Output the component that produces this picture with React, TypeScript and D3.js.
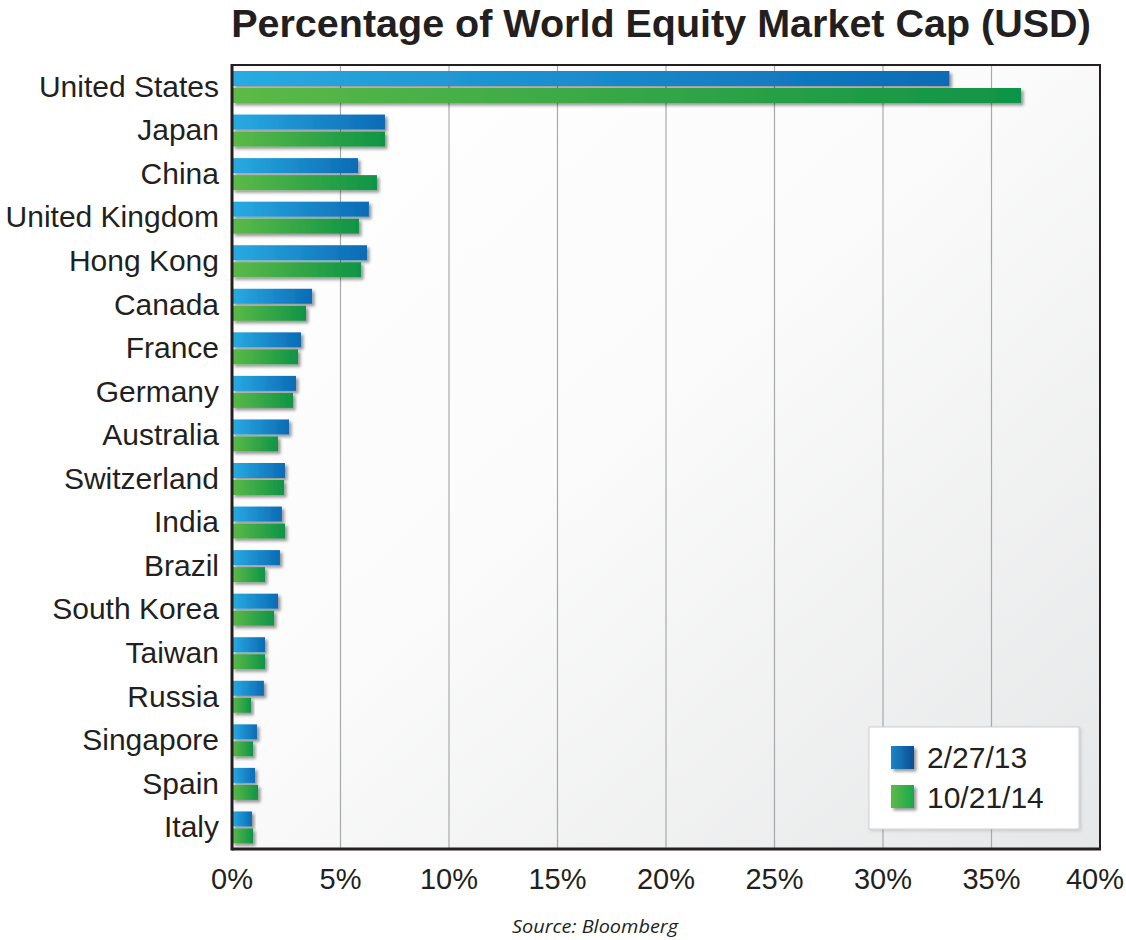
import React from "react";
import * as d3 from "d3";

const countries = [
  "United States", "Japan", "China", "United Kingdom", "Hong Kong", "Canada",
  "France", "Germany", "Australia", "Switzerland", "India", "Brazil",
  "South Korea", "Taiwan", "Russia", "Singapore", "Spain", "Italy",
];
const series = ["2/27/13", "10/21/14"];
const values2013 = [33.06, 7.05, 5.81, 6.31, 6.22, 3.69, 3.18, 2.95, 2.63, 2.44, 2.3, 2.21, 2.12, 1.52, 1.47, 1.15, 1.06, 0.92];
const values2014 = [36.36, 7.05, 6.68, 5.85, 5.95, 3.41, 3.04, 2.81, 2.12, 2.4, 2.44, 1.52, 1.94, 1.52, 0.88, 0.97, 1.2, 0.97];
const xTicks = [0, 5, 10, 15, 20, 25, 30, 35, 40];

const W = 1126;
const H = 940;
const plot = { left: 232, right: 1100, top: 65, bottom: 849 };
const textColor = "#231f20";
const font = "Liberation Sans";

export default function App() {
  const x = d3.scaleLinear().domain([0, 40]).range([plot.left, plot.right]);
  const y = d3.scaleBand<string>().domain(countries).range([plot.top, plot.bottom]).padding(0);
  const bw = y.bandwidth();
  const ys = d3.scaleBand<string>().domain(series).range([6, 38]).paddingInner(2 - 32 / 17).paddingOuter(0);
  const data = [values2013, values2014];
  const gradIds = ["gBlue", "gGreen"];

  return (
    <svg width={W} height={H} style={{ display: "block", position: "absolute", left: 0, top: 0 }}>
      <defs>
        <linearGradient id="bg" x1="0" y1="0" x2="1" y2="1">
          <stop offset="0" stopColor="#ffffff" />
          <stop offset="0.45" stopColor="#fbfbfb" />
          <stop offset="1" stopColor="#e6e7e8" />
        </linearGradient>
        <linearGradient id="gBlue" x1="0" y1="0" x2="1" y2="0">
          <stop offset="0" stopColor="#29abe2" />
          <stop offset="1" stopColor="#0b6bb5" />
        </linearGradient>
        <linearGradient id="gGreen" x1="0" y1="0" x2="1" y2="0">
          <stop offset="0" stopColor="#5cba47" />
          <stop offset="1" stopColor="#0f9447" />
        </linearGradient>
        <linearGradient id="gBlueL" x1="0" y1="0" x2="1" y2="0">
          <stop offset="0" stopColor="#1b86c8" />
          <stop offset="1" stopColor="#0a4f92" />
        </linearGradient>
        <linearGradient id="gGreenL" x1="0" y1="0" x2="1" y2="0">
          <stop offset="0" stopColor="#5cba47" />
          <stop offset="1" stopColor="#1aa84a" />
        </linearGradient>
        <filter id="shadow" x="-10%" y="-30%" width="130%" height="180%">
          <feDropShadow dx="2.5" dy="2.5" stdDeviation="1.8" floodColor="#000" floodOpacity="0.4" />
        </filter>
        <filter id="shadowL" x="-10%" y="-10%" width="130%" height="130%">
          <feDropShadow dx="1.5" dy="1.5" stdDeviation="1.5" floodColor="#000" floodOpacity="0.15" />
        </filter>
      </defs>
      <rect x={0} y={0} width={W} height={H} fill="#ffffff" />
      <text x={661} y={37} textAnchor="middle" style={{ fontFamily: font }} fontWeight="bold" fontSize={39.5} fill={textColor}>
        Percentage of World Equity Market Cap (USD)
      </text>
      <rect x={plot.left} y={plot.top} width={plot.right - plot.left} height={plot.bottom - plot.top} fill="url(#bg)" />
      {xTicks.slice(1, -1).map((t) => (
        <line key={t} x1={x(t)} x2={x(t)} y1={plot.top} y2={plot.bottom} stroke="#a7a9ac" strokeWidth={1.2} />
      ))}
      {countries.map((c, i) => (
        <g key={c} transform={`translate(0,${y(c)})`}>
          {series.map((s, j) => (
            <rect
              key={s}
              x={x(0)}
              y={ys(s)}
              width={x(data[j][i]) - x(0)}
              height={ys.bandwidth()}
              fill={`url(#${gradIds[j]})`}
              filter="url(#shadow)"
            />
          ))}
          <text x={219} y={bw / 2 + 10} textAnchor="end" style={{ fontFamily: font }} fontSize={30} fill={textColor}>
            {c}
          </text>
        </g>
      ))}
      <rect x={plot.left} y={plot.top} width={plot.right - plot.left} height={plot.bottom - plot.top} fill="none" stroke="#231f20" strokeWidth={2} />
      <line x1={plot.left} x2={plot.left} y1={plot.top - 1} y2={plot.bottom + 1.5} stroke="#231f20" strokeWidth={3} />
      <line x1={plot.left} x2={plot.right + 1} y1={plot.bottom} y2={plot.bottom} stroke="#231f20" strokeWidth={3} />
      {xTicks.map((t, i) => {
        const last = i === xTicks.length - 1;
        return (
          <text key={t} x={last ? 1124 : x(t)} y={889} textAnchor={last ? "end" : "middle"} style={{ fontFamily: font }} fontSize={29} fill={textColor}>
            {t}%
          </text>
        );
      })}
      <g>
        <rect x={869} y={727} width={210} height={102} fill="#ffffff" stroke="#cfd0d2" strokeWidth={1} filter="url(#shadowL)" />
        {series.map((s, j) => (
          <g key={s}>
            <rect x={891} y={746 + j * 39} width={23} height={23} fill={`url(#${j === 0 ? "gBlueL" : "gGreenL"})`} filter="url(#shadow)" />
            <text x={927} y={768 + j * 40} style={{ fontFamily: font }} fontSize={30} fill={textColor}>
              {s}
            </text>
          </g>
        ))}
      </g>
      <text x={595} y={933} textAnchor="middle" style={{ fontFamily: "Open Sans" }} fontStyle="italic" fontSize={18} fill={textColor} textLength={166} lengthAdjust="spacingAndGlyphs">
        Source: Bloomberg
      </text>
    </svg>
  );
}
